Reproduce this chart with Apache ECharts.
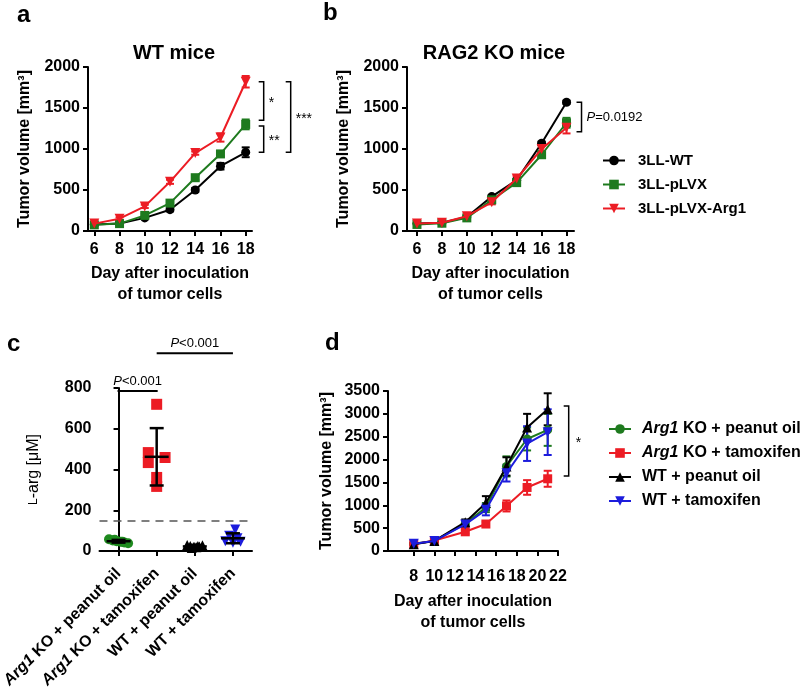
<!DOCTYPE html>
<html><head><meta charset="utf-8">
<script src="https://cdn.jsdelivr.net/npm/echarts@6/dist/echarts.min.js"></script>
<style>html,body{margin:0;padding:0;background:#fff}#c{width:800px;height:691px}</style>
</head><body><div id="c"></div>
<script>
// ---------- DATA ----------
const daysAB = [6, 8, 10, 12, 14, 16, 18];
const tickDaysAB = [6, 8, 10, 12, 14, 16, 18];
const seriesNamesAB = ['3LL-WT', '3LL-pLVX', '3LL-pLVX-Arg1'];
// panel a (WT mice)
const aWT = [80, 90, 160, 260, 500, 790, 960];
const aWTErr = [10, 10, 15, 20, 25, 40, 60];
const aPLVX = [75, 90, 190, 340, 650, 940, 1300];
const aPLVXErr = [10, 10, 20, 25, 30, 30, 60];
const aArg1 = [90, 150, 300, 600, 950, 1140, 1820];
const aArg1Err = [10, 15, 20, 25, 20, 50, 70];
// panel b (RAG2 KO mice)
const bWT = [90, 100, 170, 420, 620, 1070, 1570];
const bWTErr = [10, 10, 15, 20, 20, 20, 20];
const bPLVX = [80, 95, 160, 380, 590, 930, 1320];
const bPLVXErr = [10, 10, 15, 20, 30, 40, 60];
const bArg1 = [90, 100, 180, 350, 640, 1000, 1260];
const bArg1Err = [10, 10, 15, 25, 30, 40, 70];
// panel c (L-arg)
const cGroups = ['Arg1 KO + peanut oil', 'Arg1 KO + tamoxifen', 'WT + peanut oil', 'WT + tamoxifen'];
const cKOOil = [58, 52, 48, 45, 42, 38, 55, 45];
const cKOOilJitter = [-0.25, -0.15, -0.05, 0.05, 0.15, 0.25, -0.1, 0.1];
const cKOTam = [720, 483, 434, 459, 361, 317];
const cKOTamJitter = [0, -0.22, -0.22, 0.22, 0, 0];
const cWTOil = [30, 25, 20, 18, 22, 28, 15, 25, 20];
const cWTOilJitter = [-0.2, -0.12, -0.04, 0.04, 0.12, 0.2, -0.08, 0.08, 0.0];
const cWTTam = [105, 75, 62, 48, 45, 40];
const cWTTamJitter = [0.06, -0.1, 0.12, -0.2, 0.2, 0.0];
const cThreshold = 150;
// panel d
const daysD = [8, 10, 13, 15, 17, 19, 21];
const tickDaysD = [8, 10, 12, 14, 16, 18, 20, 22];
const seriesNamesD = ['Arg1 KO + peanut oil', 'Arg1 KO + tamoxifen', 'WT + peanut oil', 'WT + tamoxifen'];
const dKOOil = [160, 220, 600, 950, 1850, 2450, 2650];
const dKOOilErr = [20, 20, 60, 100, 220, 250, 350];
const dKOTam = [150, 230, 420, 590, 985, 1390, 1580];
const dKOTamErr = [15, 20, 40, 50, 120, 160, 175];
const dWTOil = [150, 220, 630, 1050, 1850, 2700, 3100];
const dWTOilErr = [20, 20, 60, 150, 200, 300, 350];
const dWTTam = [160, 220, 580, 900, 1700, 2350, 2600];
const dWTTamErr = [20, 20, 60, 120, 180, 380, 500];

// ---------- STYLE ----------
const FF = 'Liberation Sans, Arial, Helvetica, sans-serif';
const RED = '#ec1c24', GREEN = '#1e7a1e', BLACK = '#000000', BLUE = '#1c1cdc';

function axisBase() {
  return {
    axisLine: { show: true, lineStyle: { color: '#000', width: 2 } },
    axisTick: { show: true, length: 5, lineStyle: { color: '#000', width: 2 } },
    axisLabel: { color: '#000', fontSize: 16, fontWeight: 'bold', fontFamily: FF, formatter: v => String(v) },
    splitLine: { show: false }
  };
}
function yAxis(grid, max, interval, name, gap) {
  const a = axisBase();
  return Object.assign(a, {
    type: 'value', gridIndex: grid, min: 0, max: max, interval: interval,
    name: name, nameLocation: 'middle', nameGap: gap,
    nameTextStyle: { color: '#000', fontSize: 16, fontWeight: 'bold', fontFamily: FF }
  });
}
function xValAxis(grid, min, max, ticks, gap, labelMargin) {
  const a = axisBase();
  a.axisTick.customValues = ticks;
  a.axisLabel.customValues = ticks;
  a.axisLabel.margin = labelMargin;
  return Object.assign(a, {
    type: 'value', gridIndex: grid, min: min, max: max,
    name: 'Day after inoculation\nof tumor cells', nameLocation: 'middle', nameGap: gap,
    nameTextStyle: { color: '#000', fontSize: 16, fontWeight: 'bold', fontFamily: FF, lineHeight: 21, verticalAlign: 'top' }
  });
}
function lineSeries(name, xi, yi, xs, ys, color, symbol, size, rot, z) {
  return {
    type: 'line', name: name, xAxisIndex: xi, yAxisIndex: yi,
    data: xs.map((x, i) => [x, ys[i]]),
    symbol: symbol, symbolSize: size, symbolRotate: rot || 0,
    lineStyle: { color: color, width: 2 }, itemStyle: { color: color },
    z: z, animation: false
  };
}
function errSeries(xi, yi, xs, ys, es, color, capW, z) {
  return {
    type: 'custom', xAxisIndex: xi, yAxisIndex: yi, silent: true, z: z,
    data: xs.map((x, i) => [x, ys[i], es[i]]),
    renderItem: function (params, api) {
      const x = api.value(0), y = api.value(1), e = api.value(2);
      const t = api.coord([x, y + e]), b = api.coord([x, y - e]);
      const st = { stroke: color, lineWidth: 2 };
      return { type: 'group', children: [
        { type: 'line', shape: { x1: t[0], y1: t[1], x2: b[0], y2: b[1] }, style: st },
        { type: 'line', shape: { x1: t[0] - capW, y1: t[1], x2: t[0] + capW, y2: t[1] }, style: st },
        { type: 'line', shape: { x1: b[0] - capW, y1: b[1], x2: b[0] + capW, y2: b[1] }, style: st }
      ] };
    }
  };
}
function mean(a) { return a.reduce((s, v) => s + v, 0) / a.length; }
function sd(a) { const m = mean(a); return Math.sqrt(a.reduce((s, v) => s + (v - m) * (v - m), 0) / (a.length - 1)); }
function scatterSeries(gi, vals, jit, color, symbol, size, rot) {
  return {
    type: 'scatter', xAxisIndex: 3, yAxisIndex: 2,
    data: vals.map((v, i) => [gi + jit[i], v]),
    symbol: symbol, symbolSize: size, symbolRotate: rot || 0,
    itemStyle: { color: color, opacity: 1 }, z: 2, silent: true
  };
}
const cAll = [cKOOil, cKOTam, cWTOil, cWTTam];
const cStats = cAll.map((g, i) => [i, mean(g), sd(g)]);

const richItalic = {
  i: { fontStyle: 'italic', fontWeight: 'bold', fontSize: 16, fontFamily: FF, color: '#000' },
  n: { fontWeight: 'bold', fontSize: 16, fontFamily: FF, color: '#000' }
};
function italArg(name) { return name.indexOf('Arg1') === 0 ? '{i|Arg1}{n|' + name.slice(4) + '}' : '{n|' + name + '}'; }

const xC = axisBase();
Object.assign(xC, { type: 'category', gridIndex: 2, data: cGroups, boundaryGap: true });
xC.axisTick.alignWithLabel = true;
Object.assign(xC.axisLabel, { rotate: 45, margin: 20, formatter: italArg, rich: richItalic });

const yC = yAxis(2, 800, 200, '{sc|L}-arg [μM]', 58);
yC.nameTextStyle = { color: '#000', fontSize: 16, fontWeight: 'normal', fontFamily: FF,
  rich: { sc: { fontSize: 12, fontFamily: FF, color: '#000' } } };

const option = {
  animation: false,
  backgroundColor: '#fff',
  grid: [
    { left: 88, top: 67, width: 164, height: 164 },
    { left: 407, top: 67, width: 167, height: 164 },
    { left: 88, top: 388, width: 164, height: 164 },
    { left: 388, top: 391, width: 170, height: 160 }
  ],
  xAxis: [
    xValAxis(0, 5.5, 18.5, tickDaysAB, 32, 11),
    xValAxis(1, 5.2, 18.6, tickDaysAB, 32, 11),
    xC,
    { type: 'value', gridIndex: 2, min: -0.5, max: 3.5, show: false },
    xValAxis(3, 5.5, 22, tickDaysD, 40, 18)
  ],
  yAxis: [
    yAxis(0, 2000, 500, 'Tumor volume [mm³]', 55),
    yAxis(1, 2000, 500, 'Tumor volume [mm³]', 55),
    yC,
    yAxis(3, 3500, 500, 'Tumor volume [mm³]', 53)
  ],
  legend: [
    { data: seriesNamesAB, orient: 'vertical', left: 597, top: 148, itemWidth: 22, itemHeight: 12, itemGap: 9,
      textStyle: { color: '#000', fontSize: 15, fontWeight: 'bold', fontFamily: FF, padding: [0, 0, 0, 8] } },
    { data: seriesNamesD, orient: 'vertical', left: 603, top: 416, itemWidth: 22, itemHeight: 12, itemGap: 8,
      formatter: function (n) { return n.indexOf('Arg1') === 0 ? '{i|Arg1}{n|' + n.slice(4) + '}' : '{n|' + n + '}'; },
      textStyle: { color: '#000', fontSize: 16, fontWeight: 'bold', fontFamily: FF, padding: [0, 0, 0, 6],
        rich: { i: { fontStyle: 'italic', fontWeight: 'bold', fontSize: 16, fontFamily: FF, color: '#000' },
                n: { fontWeight: 'bold', fontSize: 16, fontFamily: FF, color: '#000' } } } }
  ],
  series: [
    // panel a
    errSeries(0, 0, daysAB, aWT, aWTErr, BLACK, 4, 1),
    errSeries(0, 0, daysAB, aPLVX, aPLVXErr, GREEN, 4, 1),
    errSeries(0, 0, daysAB, aArg1, aArg1Err, RED, 4, 1),
    lineSeries(seriesNamesAB[0], 0, 0, daysAB, aWT, BLACK, 'circle', 9, 0, 3),
    lineSeries(seriesNamesAB[1], 0, 0, daysAB, aPLVX, GREEN, 'rect', 9, 0, 4),
    lineSeries(seriesNamesAB[2], 0, 0, daysAB, aArg1, RED, 'triangle', 10, 180, 5),
    // panel b
    errSeries(1, 1, daysAB, bWT, bWTErr, BLACK, 4, 1),
    errSeries(1, 1, daysAB, bPLVX, bPLVXErr, GREEN, 4, 1),
    errSeries(1, 1, daysAB, bArg1, bArg1Err, RED, 4, 1),
    lineSeries(seriesNamesAB[0], 1, 1, daysAB, bWT, BLACK, 'circle', 9, 0, 3),
    lineSeries(seriesNamesAB[1], 1, 1, daysAB, bPLVX, GREEN, 'rect', 9, 0, 4),
    lineSeries(seriesNamesAB[2], 1, 1, daysAB, bArg1, RED, 'triangle', 10, 180, 5),
    // panel c
    scatterSeries(0, cKOOil, cKOOilJitter, '#1e8a1e', 'circle', 10, 0),
    scatterSeries(1, cKOTam, cKOTamJitter, RED, 'rect', 11, 0),
    scatterSeries(2, cWTOil, cWTOilJitter, BLACK, 'triangle', 10, 0),
    scatterSeries(3, cWTTam, cWTTamJitter, BLUE, 'triangle', 10, 180),
    {
      type: 'custom', xAxisIndex: 3, yAxisIndex: 2, silent: true, z: 6, data: cStats,
      renderItem: function (params, api) {
        const x = api.value(0), m = api.value(1), s = api.value(2);
        const c = api.coord([x, m]), t = api.coord([x, m + s]), b = api.coord([x, m - s]);
        const st = { stroke: '#000', lineWidth: 2.5 };
        return { type: 'group', children: [
          { type: 'line', shape: { x1: t[0], y1: t[1], x2: b[0], y2: b[1] }, style: st },
          { type: 'line', shape: { x1: c[0] - 12, y1: c[1], x2: c[0] + 12, y2: c[1] }, style: st },
          { type: 'line', shape: { x1: t[0] - 7, y1: t[1], x2: t[0] + 7, y2: t[1] }, style: st },
          { type: 'line', shape: { x1: b[0] - 7, y1: b[1], x2: b[0] + 7, y2: b[1] }, style: st }
        ] };
      },
      markLine: { silent: true, symbol: 'none', animation: false, label: { show: false },
        lineStyle: { color: '#555', width: 1.5, type: [8, 6] }, data: [{ yAxis: cThreshold }] }
    },
    // panel d
    errSeries(4, 3, daysD, dKOOil, dKOOilErr, GREEN, 4, 1),
    errSeries(4, 3, daysD, dKOTam, dKOTamErr, RED, 4, 1),
    errSeries(4, 3, daysD, dWTOil, dWTOilErr, BLACK, 4, 1),
    errSeries(4, 3, daysD, dWTTam, dWTTamErr, BLUE, 4, 1),
    lineSeries(seriesNamesD[0], 4, 3, daysD, dKOOil, GREEN, 'circle', 9, 0, 3),
    lineSeries(seriesNamesD[1], 4, 3, daysD, dKOTam, RED, 'rect', 9, 0, 4),
    lineSeries(seriesNamesD[2], 4, 3, daysD, dWTOil, BLACK, 'triangle', 10, 0, 5),
    lineSeries(seriesNamesD[3], 4, 3, daysD, dWTTam, BLUE, 'triangle', 10, 180, 6)
  ]
};

const chart = echarts.init(document.getElementById('c'), null, { renderer: 'canvas' });
chart.setOption(option);

// ---------- annotations (positioned through the chart's own scales) ----------
function px(xi, yi, x, y) { return chart.convertToPixel({ xAxisIndex: xi, yAxisIndex: yi }, [x, y]); }
function bracket(x, y1, y2, tick) {
  return { type: 'polyline', silent: true, shape: { points: [[x - tick, y1], [x, y1], [x, y2], [x - tick, y2]] },
    style: { stroke: '#000', lineWidth: 1.5, fill: null } };
}
function txt(t, x, y, size, weight, align, rich) {
  const s = { text: t, x: x, y: y, fill: '#000', fontSize: size, fontWeight: weight || 'normal', fontFamily: FF,
    align: align || 'left', verticalAlign: 'middle' };
  if (rich) s.rich = rich;
  return { type: 'text', silent: true, style: s };
}
const pRich = { p: { fontStyle: 'italic', fontSize: 13, fontFamily: FF, fill: '#000' }, n: { fontSize: 13, fontFamily: FF, fill: '#000' } };
const g = [];
// panel letters and titles
g.push(txt('a', 17, 15, 24, 'bold'));
g.push(txt('b', 323, 13, 24, 'bold'));
g.push(txt('c', 7, 344, 24, 'bold'));
g.push(txt('d', 325, 343, 24, 'bold'));
g.push(txt('WT mice', 174, 53, 20, 'bold', 'center'));
g.push(txt('RAG2 KO mice', 494, 53, 20, 'bold', 'center'));
// panel a brackets
const a18 = px(0, 0, 18, 0)[0];
const ya1 = px(0, 0, 18, 1820)[1], ya2 = px(0, 0, 18, 1350)[1], ya3 = px(0, 0, 18, 1280)[1], ya4 = px(0, 0, 18, 960)[1];
g.push(bracket(a18 + 18, ya1, ya2, 5));
g.push(bracket(a18 + 18, ya3, ya4, 5));
g.push(bracket(a18 + 45, ya1, ya4, 5));
g.push(txt('*', a18 + 23, (ya1 + ya2) / 2 + 2, 14, 'normal'));
g.push(txt('**', a18 + 23, (ya3 + ya4) / 2 + 2, 14, 'normal'));
g.push(txt('***', a18 + 50, (ya1 + ya4) / 2 + 2, 14, 'normal'));
// panel b bracket
const b18 = px(1, 1, 18, 0)[0];
const yb1 = px(1, 1, 18, 1570)[1], yb2 = px(1, 1, 18, 1210)[1];
g.push(bracket(b18 + 15, yb1, yb2, 5));
g.push(txt('{p|P}{n|=0.0192}', b18 + 20, (yb1 + yb2) / 2, 13, 'normal', 'left', pRich));
// panel c significance lines
const c0 = px(3, 2, 0, 785), c1 = px(3, 2, 1, 785), c1b = px(3, 2, 1, 970), c3 = px(3, 2, 3, 970);
g.push({ type: 'line', silent: true, shape: { x1: c0[0] - 1, y1: c0[1], x2: c1[0] + 1, y2: c1[1] }, style: { stroke: '#000', lineWidth: 2 } });
g.push({ type: 'line', silent: true, shape: { x1: c1b[0], y1: c1b[1], x2: c3[0], y2: c3[1] }, style: { stroke: '#000', lineWidth: 2 } });
g.push(txt('{p|P}{n|<0.001}', (c0[0] + c1[0]) / 2, c0[1] - 10, 13, 'normal', 'center', pRich));
g.push(txt('{p|P}{n|<0.001}', (c1b[0] + c3[0]) / 2, c1b[1] - 10, 13, 'normal', 'center', pRich));
// panel d bracket
const d21 = px(4, 3, 21, 0)[0];
const yd1 = px(4, 3, 21, 3170)[1], yd2 = px(4, 3, 21, 1640)[1];
g.push(bracket(d21 + 21, yd1, yd2, 5));
g.push(txt('*', d21 + 28, (yd1 + yd2) / 2 + 2, 14, 'normal'));
chart.setOption({ graphic: { elements: g } });
</script></body></html>
